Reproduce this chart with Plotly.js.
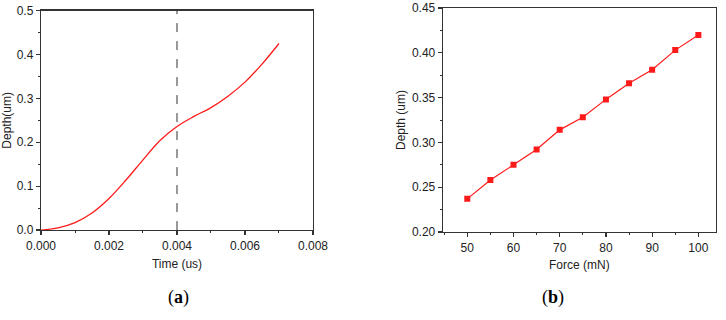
<!DOCTYPE html>
<html>
<head>
<meta charset="utf-8">
<script src="https://cdn.plot.ly/plotly-3.0.1.min.js"></script>
<style>html,body{margin:0;padding:0;background:#fff}#chart{width:726px;height:320px}</style>
</head>
<body>
<div id="chart"></div>
<script>
// Panel (a): depth vs time
const timeUs = [0, 0.0005, 0.001, 0.0015, 0.002, 0.0025, 0.003, 0.0035, 0.004, 0.0045, 0.005, 0.0055, 0.006, 0.0065, 0.007];
const depthA = [0, 0.005, 0.017, 0.039, 0.072, 0.114, 0.160, 0.204, 0.236, 0.259, 0.279, 0.305, 0.337, 0.378, 0.425];
const markerTime = 0.004;
// Panel (b): depth vs force
const forceMN = [50, 55, 60, 65, 70, 75, 80, 85, 90, 95, 100];
const depthB = [0.237, 0.258, 0.275, 0.292, 0.314, 0.328, 0.348, 0.366, 0.381, 0.403, 0.420];
const panelLabels = ['(<b>a</b>)', '(<b>b</b>)'];

const axCol = '#333333';
const tickFont = {family: 'Liberation Sans, Arial, sans-serif', size: 12, color: '#222'};
const titleFont = {family: 'Liberation Sans, Arial, sans-serif', size: 12, color: '#222'};
const red = '#ff1a1a';

function axis(extra) {
  return Object.assign({
    showgrid: false, zeroline: false, showline: true, linecolor: axCol, linewidth: 1.3,
    mirror: true, ticks: 'outside', ticklen: 4, tickwidth: 1.2, tickcolor: axCol,
    tickfont: tickFont, automargin: false
  }, extra);
}

const data = [
  {x: timeUs, y: depthA, type: 'scatter', mode: 'lines', line: {color: red, width: 1.3, shape: 'spline', smoothing: 1}, xaxis: 'x', yaxis: 'y', hoverinfo: 'skip'},
  {x: forceMN, y: depthB, type: 'scatter', mode: 'lines+markers', line: {color: red, width: 1.2}, marker: {symbol: 'square', size: 6, color: red}, xaxis: 'x2', yaxis: 'y2'}
];

const layout = {
  width: 726, height: 320,
  margin: {l: 0, r: 0, t: 0, b: 0},
  paper_bgcolor: '#fff', plot_bgcolor: '#fff',
  showlegend: false,
  xaxis: axis({domain: [0.0565, 0.4311], range: [0, 0.008], dtick: 0.002, tick0: 0, tickformat: '.3f',
    minor: {dtick: 0.001, ticks: 'outside', ticklen: 2, tickcolor: axCol, tickwidth: 1},
    title: {text: 'Time (us)', font: titleFont, standoff: 7}, anchor: 'y'}),
  yaxis: axis({domain: [0.281, 0.967], range: [0, 0.5], dtick: 0.1, tick0: 0, tickformat: '.1f',
    minor: {dtick: 0.05, ticks: 'outside', ticklen: 2, tickcolor: axCol, tickwidth: 1},
    title: {text: 'Depth(um)', font: titleFont, standoff: 3}, anchor: 'x'}),
  xaxis2: axis({domain: [0.6102, 0.9858], range: [44.75, 103.75], dtick: 10, tick0: 0,
    minor: {dtick: 5, ticks: 'outside', ticklen: 2, tickcolor: axCol, tickwidth: 1},
    title: {text: 'Force (mN)', font: titleFont, standoff: 7}, anchor: 'y2'}),
  yaxis2: axis({domain: [0.275, 0.975], range: [0.2, 0.45], dtick: 0.05, tick0: 0, tickformat: '.2f',
    minor: {dtick: 0.025, ticks: 'outside', ticklen: 2, tickcolor: axCol, tickwidth: 1},
    title: {text: 'Depth (um)', font: titleFont, standoff: 3}, anchor: 'x2'}),
  shapes: [
    {type: 'line', xref: 'x', yref: 'y', x0: markerTime, x1: markerTime, y0: 0, y1: 0.5,
     line: {color: axCol, width: 1, dash: 'dash'}}
  ],
  annotations: [
    {text: panelLabels[0], xref: 'paper', yref: 'paper', x: 0.2287, y: 0.069, yanchor: 'middle', showarrow: false,
     font: {family: 'Liberation Serif, Times New Roman, serif', size: 18, color: '#000'}},
    {text: panelLabels[1], xref: 'paper', yref: 'paper', x: 0.7796, y: 0.069, yanchor: 'middle', showarrow: false,
     font: {family: 'Liberation Serif, Times New Roman, serif', size: 18, color: '#000'}}
  ]
};

Plotly.newPlot('chart', data, layout, {staticPlot: true, displayModeBar: false});
</script>
</body>
</html>
